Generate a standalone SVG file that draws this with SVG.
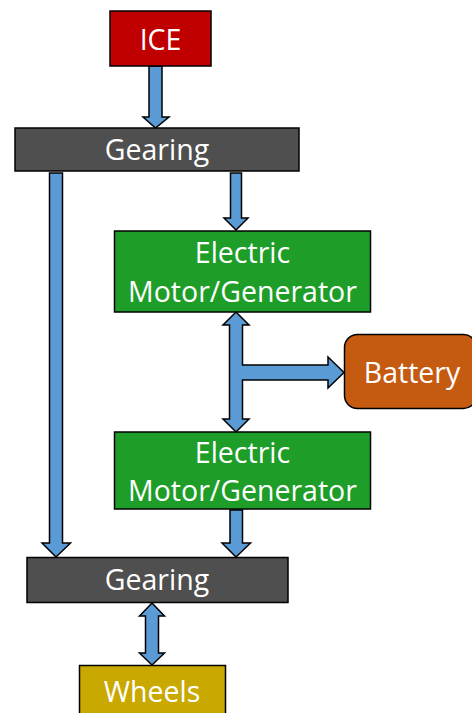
<svg xmlns="http://www.w3.org/2000/svg" width="472" height="713" viewBox="0 0 472 713">
<style>
.box{stroke:#000;stroke-width:1.5}
.t{font-family:"Open Sans","Liberation Sans",sans-serif;font-size:28.5px;fill:#fff;text-anchor:middle;dominant-baseline:central}
.arr{fill:#5B9BD5;stroke:#000;stroke-width:1.5;stroke-linejoin:miter}
</style>
<rect width="472" height="713" fill="#fff"/>
<g id="connectors">
<polygon class="arr" points="149,66 162,66 162,117 169,117 155.5,128 143,117 149,117"/>
<polygon class="arr" points="49.5,173 62.5,173 62.5,543 70.5,543 56,557 42,543 49.5,543"/>
<polygon class="arr" points="230.5,173 241.5,173 241.5,218 248,218 236,230 224,218 230.5,218"/>
<polygon class="arr" points="236,312 249,325 242.5,325 242.5,365 328,365 328,357 344,372.5 328,388 328,380 242.5,380 242.5,419 249,419 236,432 223,419 229.5,419 229.5,325 223,325"/>
<polygon class="arr" points="230,510 242.5,510 242.5,543 250.5,543 236,557 222,543 230,543"/>
<polygon class="arr" points="152,603 164.5,616 158.5,616 158.5,653 164.5,653 152,665 139.5,653 145.5,653 145.5,616 139.5,616"/>
</g>
<g id="ice"><rect class="box" x="110" y="11" width="101" height="55" fill="#C00000"/><text class="t" x="160.5" y="39">ICE</text></g>
<g id="gearing1"><rect class="box" x="15" y="128" width="284" height="43" fill="#4F4F4F"/><text class="t" x="157" y="149">Gearing</text></g>
<g id="emg1"><rect class="box" x="114.5" y="231" width="256" height="81" fill="#1E9E28"/><text class="t" x="242.5" y="252">Electric</text><text class="t" x="242.5" y="291">Motor/Generator</text></g>
<g id="battery"><rect class="box" x="344.5" y="334.5" width="132" height="74" rx="13" fill="#C55A11"/><text class="t" x="412" y="372">Battery</text></g>
<g id="emg2"><rect class="box" x="114.5" y="432" width="256" height="77" fill="#1E9E28"/><text class="t" x="242.5" y="452">Electric</text><text class="t" x="242.5" y="490">Motor/Generator</text></g>
<g id="gearing2"><rect class="box" x="27" y="557.5" width="261" height="45" fill="#4F4F4F"/><text class="t" x="157" y="579">Gearing</text></g>
<g id="wheels"><rect class="box" x="79.5" y="665.5" width="146" height="60" fill="#C9A800"/><text class="t" x="152" y="691">Wheels</text></g>
</svg>
